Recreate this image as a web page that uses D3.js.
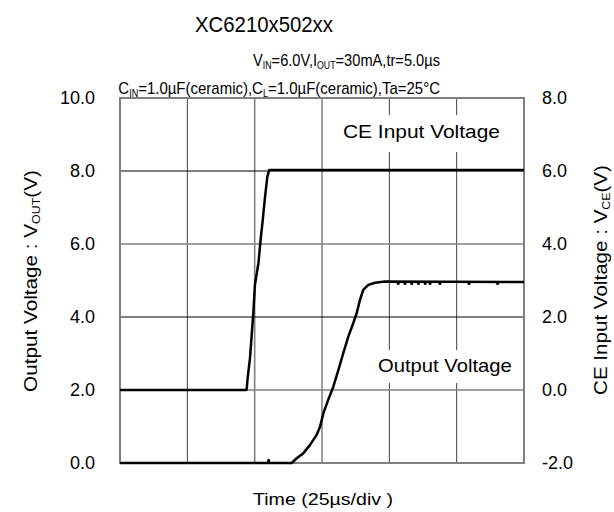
<!DOCTYPE html>
<html><head><meta charset="utf-8">
<script src="https://cdn.jsdelivr.net/npm/d3@7"></script>
<style>body{margin:0;background:#fff}svg{display:block}text{font-family:"Liberation Sans",Arial,sans-serif;fill:#000}</style>
</head><body><svg id="c" width="614" height="512"></svg>
<script>
// ---- data ----
const ceTime = [0, 47.0, 47.4, 48.3, 48.9, 49.5, 50.1, 51.4, 52.2, 53.0, 53.8, 54.7, 55.4, 150];
const ceVolt = [0, 0, 0.33, 0.90, 1.51, 2.11, 2.88, 3.48, 4.11, 4.66, 5.26, 5.84, 6.03, 6.03];
const outTime = [0, 55.0, 55.2, 55.4, 63.75, 65.6, 68.1, 70.5, 73.0, 74.3, 75.5, 77.3, 79.2, 81.1, 82.9, 84.8, 86.6, 87.9, 89.1, 90.3, 92.2, 94.7, 98.4, 150];
const outVolt = [0, 0, 0.08, 0, 0, 0.13, 0.27, 0.49, 0.77, 1.0, 1.36, 1.73, 2.09, 2.55, 3.01, 3.47, 3.83, 4.11, 4.47, 4.74, 4.88, 4.94, 4.97, 4.96];
const noiseTime = [103.3, 105.8, 108.3, 110.8, 113.3, 115.1, 118.8, 129.6, 140.2];
const noiseVolt = [4.92, 4.92, 4.92, 4.92, 4.92, 4.92, 4.92, 4.92, 4.92];
const leftTicks = ["0.0", "2.0", "4.0", "6.0", "8.0", "10.0"];
const rightTicks = ["-2.0", "0.0", "2.0", "4.0", "6.0", "8.0"];
const timeGrid = [25, 50, 75, 100, 125];
const voltGrid = [2, 4, 6, 8];

const svg = d3.select("#c");
const L = 120, R = 524, T = 98, B = 463;
const x = d3.scaleLinear().domain([0, 150]).range([L, R]);
const yL = d3.scaleLinear().domain([0, 10]).range([B, T]);
const yR = d3.scaleLinear().domain([-2, 8]).range([B, T]);

function placeText(x0, y0, size, anchor, width, build, rot) {
  const g = svg.append("g");
  const t = g.append("text").attr("font-size", size).attr("text-anchor", anchor);
  build(t);
  const sx = width ? width / t.node().getComputedTextLength() : 1;
  g.attr("transform", `translate(${x0},${y0})` + (rot ? ` rotate(${rot})` : "") + ` scale(${sx},1)`);
  return g;
}
function sub(t, main, s, rest) {
  t.append("tspan").text(main);
  t.append("tspan").attr("font-size", "0.6em").attr("dy", 3).text(s);
  t.append("tspan").attr("dy", -3).text(rest);
}

// grid
svg.append("g").selectAll("line").data(timeGrid).join("line")
  .attr("x1", d => x(d)).attr("x2", d => x(d)).attr("y1", T).attr("y2", B)
  .attr("stroke", d => d === 50 ? "#808080" : "#404040").attr("stroke-width", d => d === 50 ? 1.6 : 1);
svg.append("g").selectAll("line").data(voltGrid).join("line")
  .attr("x1", L).attr("x2", R).attr("y1", d => yL(d)).attr("y2", d => yL(d))
  .attr("stroke", d => (d === 6 || d === 2) ? "#808080" : "#000").attr("stroke-width", d => (d === 6 || d === 2) ? 1.6 : 1);

// label boxes
svg.append("rect").attr("x", 338).attr("y", 115).attr("width", 168).attr("height", 37).attr("fill", "#fff");
svg.append("rect").attr("x", 373).attr("y", 350).attr("width", 144).attr("height", 33).attr("fill", "#fff");

// frame
svg.append("rect").attr("x", L).attr("y", T).attr("width", R - L).attr("height", B - T)
  .attr("fill", "none").attr("stroke", "#808080").attr("stroke-width", 2);

// lines
const ceData = ceTime.map((t, i) => [t, ceVolt[i]]);
const outData = outTime.map((t, i) => [t, outVolt[i]]);
svg.append("path").datum(ceData).attr("fill", "none").attr("stroke", "#000").attr("stroke-width", 2.5)
  .attr("stroke-linejoin", "round")
  .attr("d", d3.line().x(d => x(d[0])).y(d => yR(d[1])));
svg.append("path").datum(outData).attr("fill", "none").attr("stroke", "#000").attr("stroke-width", 2.5)
  .attr("stroke-linejoin", "round")
  .attr("d", d3.line().x(d => x(d[0])).y(d => yL(d[1])));
svg.append("g").selectAll("circle").data(noiseTime.map((t, i) => [t, noiseVolt[i]])).join("circle")
  .attr("cx", d => x(d[0])).attr("cy", d => yL(d[1])).attr("r", 1.5).attr("fill", "#000");

// tick labels
svg.append("g").selectAll("text").data(leftTicks).join("text")
  .attr("x", 95).attr("y", d => yL(+d)).attr("dy", "0.35em").attr("text-anchor", "end")
  .attr("font-size", 18).text(d => d);
svg.append("g").selectAll("text").data(rightTicks).join("text")
  .attr("x", 542).attr("y", d => yR(+d)).attr("dy", "0.35em").attr("text-anchor", "start")
  .attr("font-size", 18).text(d => d);

// titles
placeText(264, 32, 22, "middle", 138, t => t.text("XC6210x502xx"));
placeText(440, 66, 17, "end", 187, t => {
  sub(t, "V", "IN", "=6.0V,I");
  t.append("tspan").attr("font-size", "0.6em").attr("dy", 3).text("OUT");
  t.append("tspan").attr("dy", -3).text("=30mA,tr=5.0µs");
});
placeText(440, 94, 17, "end", 322, t => {
  sub(t, "C", "IN", "=1.0µF(ceramic),C");
  t.append("tspan").attr("font-size", "0.6em").attr("dy", 3).text("L");
  t.append("tspan").attr("dy", -3).text("=1.0µF(ceramic),Ta=25°C");
});
placeText(323, 505, 17, "middle", 140, t => t.text("Time (25µs/div )"));
placeText(37, 281, 18, "middle", 222, t => sub(t, "Output Voltage : V", "OUT", "(V)"), -90);
placeText(607, 280, 18, "middle", 230, t => sub(t, "CE Input Voltage : V", "CE", "(V)"), -90);
placeText(343, 138, 18, "start", 157, t => t.text("CE Input Voltage"));
placeText(378, 371.5, 18, "start", 134, t => t.text("Output Voltage"));
</script></body></html>
